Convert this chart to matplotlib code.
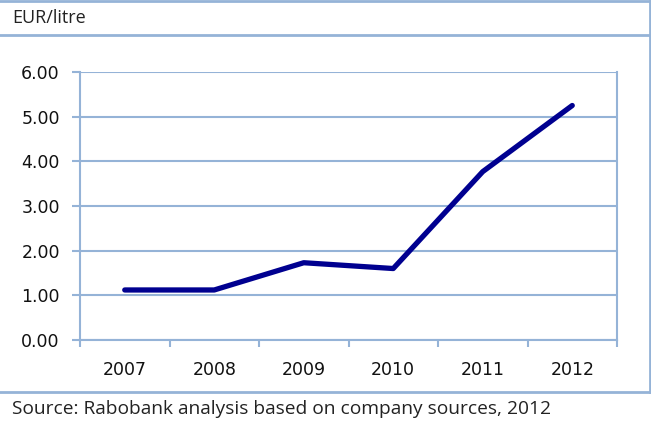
import matplotlib.pyplot as plt
from matplotlib.lines import Line2D

years = ['2007', '2008', '2009', '2010', '2011', '2012']
price = [1.12, 1.12, 1.73, 1.60, 3.77, 5.25]
yticks = [0, 1, 2, 3, 4, 5, 6]

grid_col = '#95B3D7'
line_col = '#000090'

fig = plt.figure(figsize=(6.51, 4.26), dpi=100)
W, H = 651, 426
ax = fig.add_axes([80 / W, 1 - 340 / H, (617 - 80) / W, (340 - 72) / H])

x = list(range(len(years)))
ax.plot(x, price, color=line_col, lw=3.8, solid_capstyle='round', solid_joinstyle='round')

ax.set_xlim(-0.5, len(years) - 0.5)
ax.set_ylim(0, 6)
ax.set_yticks(yticks)
ax.set_yticklabels(['%.2f' % v for v in yticks])
ax.set_xticks(x)
ax.set_xticklabels(years)
ax.set_xticks([i - 0.5 for i in range(len(years) + 1)], minor=True)
ax.tick_params(axis='x', which='major', length=0, pad=15, labelsize=12.5, labelcolor='#111111')
ax.tick_params(axis='x', which='minor', length=5, color=grid_col, width=1.5)
ax.tick_params(axis='y', length=6, color=grid_col, width=1.5, pad=8.5, labelsize=12.5, labelcolor='#111111')
ax.yaxis.grid(True, color=grid_col, lw=1.5)
ax.set_axisbelow(True)
for s in ['left', 'bottom', 'right']:
    ax.spines[s].set_color(grid_col)
    ax.spines[s].set_linewidth(1.5)
ax.spines['top'].set_visible(False)

# outer frame
def hline(y, x0=0, x1=W):
    fig.add_artist(Line2D([x0 / W, x1 / W], [1 - y / H, 1 - y / H], color=grid_col, lw=2))

hline(1)
hline(35)
hline(392)
fig.add_artist(Line2D([649.5 / W, 649.5 / W], [1 - 1 / H, 1 - 392 / H], color=grid_col, lw=2))

fig.text(12 / W, 1 - 18 / H, 'EUR/litre', family='Open Sans', fontsize=13, va='center', color='#222222')
fig.text(12 / W, 1 - 409 / H, 'Source: Rabobank analysis based on company sources, 2012',
         family='Open Sans', fontsize=13.8, va='center', color='#222222')

fig.savefig('out.png', dpi=100)
